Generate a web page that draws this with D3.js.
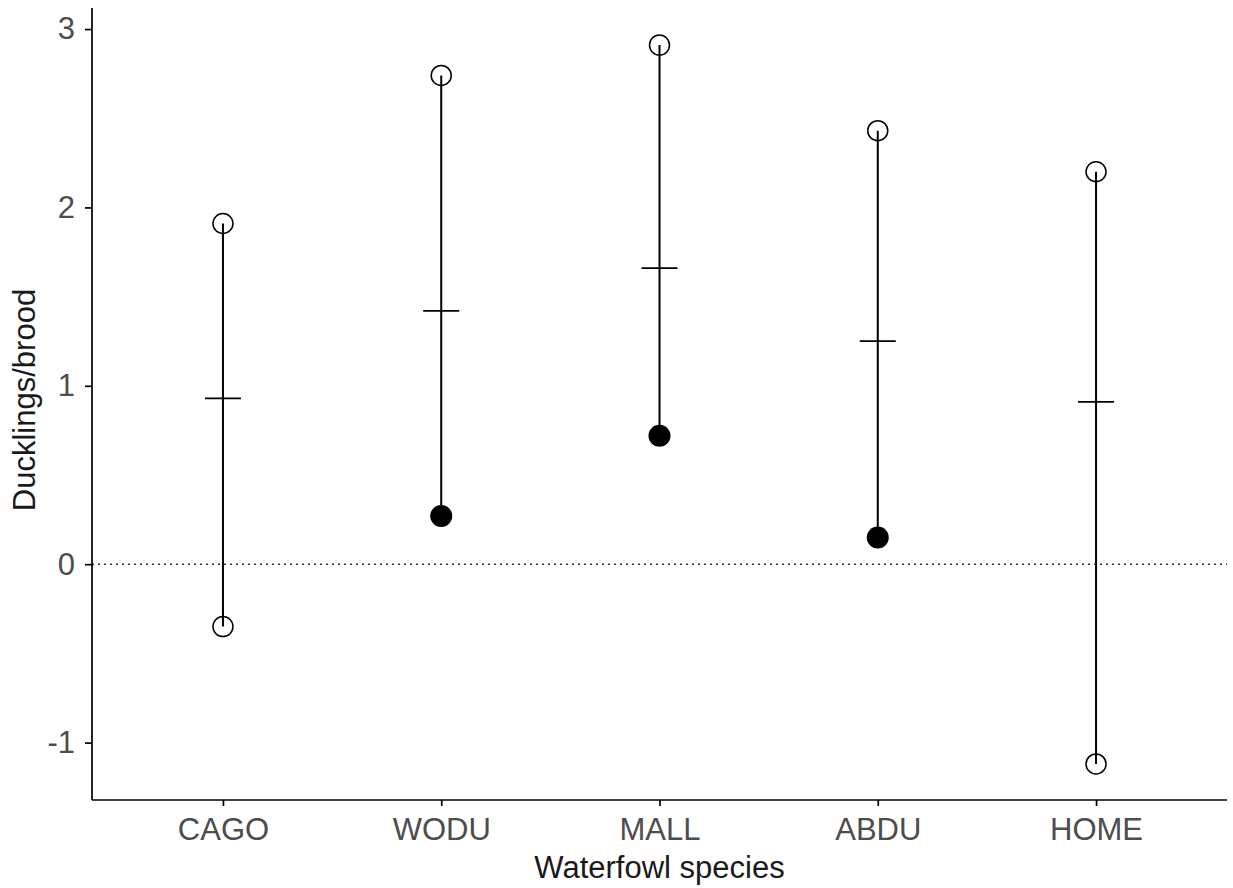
<!DOCTYPE html>
<html>
<head>
<meta charset="utf-8">
<script src="https://cdn.jsdelivr.net/npm/d3@7"></script>
<style>
  body { margin: 0; background: #fff; }
  .axis text { font-family: Arial, "Liberation Sans", sans-serif; font-size: 31px; fill: #4d4d4d; }
  .axis path, .axis line { stroke: #000; stroke-width: 1.7; }
</style>
</head>
<body>
<div id="chart"></div>
<script>
var species = ["CAGO", "WODU", "MALL", "ABDU", "HOME"];
var upper = [1.91, 2.74, 2.91, 2.43, 2.20];
var middle = [0.93, 1.42, 1.66, 1.25, 0.91];
var lower = [-0.35, 0.27, 0.72, 0.15, -1.12];
var lowerFilled = [false, true, true, true, false];
var yTicks = [-1, 0, 1, 2, 3];

var W = 1233, H = 888;
var svg = d3.select("#chart").append("svg")
    .attr("width", W)
    .attr("height", H);

var x = d3.scalePoint()
    .domain(species)
    .range([92, 1227])
    .padding(0.6);

var y = d3.scaleLinear()
    .domain([-1.322, 3.118])
    .range([800, 8]);

// zero reference line
svg.append("line")
    .attr("x1", 92).attr("x2", 1227)
    .attr("y1", y(0)).attr("y2", y(0))
    .attr("stroke", "#333")
    .attr("stroke-width", 1.4)
    .attr("stroke-dasharray", "2,4");

var data = species.map(function(s, i) {
  return { sp: s, hi: upper[i], mid: middle[i], lo: lower[i], filled: lowerFilled[i] };
});

var g = svg.append("g");

// open points (drawn under lines)
data.forEach(function(d) {
  g.append("circle")
    .attr("cx", x(d.sp)).attr("cy", y(d.hi))
    .attr("r", 10)
    .attr("fill", "#fff").attr("stroke", "#000").attr("stroke-width", 1.5);
  if (!d.filled) {
    g.append("circle")
      .attr("cx", x(d.sp)).attr("cy", y(d.lo))
      .attr("r", 10)
      .attr("fill", "#fff").attr("stroke", "#000").attr("stroke-width", 1.5);
  }
});

g.selectAll(".range")
  .data(data)
  .enter().append("line")
  .attr("class", "range")
  .attr("x1", function(d) { return x(d.sp); })
  .attr("x2", function(d) { return x(d.sp); })
  .attr("y1", function(d) { return y(d.hi); })
  .attr("y2", function(d) { return y(d.lo); })
  .attr("stroke", "#000")
  .attr("stroke-width", 2);

g.selectAll(".mid")
  .data(data)
  .enter().append("line")
  .attr("class", "mid")
  .attr("x1", function(d) { return x(d.sp) - 18; })
  .attr("x2", function(d) { return x(d.sp) + 18; })
  .attr("y1", function(d) { return y(d.mid); })
  .attr("y2", function(d) { return y(d.mid); })
  .attr("stroke", "#000")
  .attr("stroke-width", 1.7);

g.selectAll(".filled")
  .data(data.filter(function(d) { return d.filled; }))
  .enter().append("circle")
  .attr("class", "filled")
  .attr("cx", function(d) { return x(d.sp); })
  .attr("cy", function(d) { return y(d.lo); })
  .attr("r", 11)
  .attr("fill", "#000");

// axes
var yAxis = d3.axisLeft(y).tickValues(yTicks).tickSize(7).tickPadding(10)
    .tickFormat(function(d) { return String(d); });
svg.append("g")
  .attr("class", "axis y-axis")
  .attr("transform", "translate(92,0)")
  .call(yAxis)
  .call(function(s) { s.select(".domain").attr("d", "M0,8V800"); });

var xAxis = d3.axisBottom(x).tickSize(6).tickPadding(12);
svg.append("g")
  .attr("class", "axis x-axis")
  .attr("transform", "translate(0,800)")
  .call(xAxis)
  .call(function(s) { s.select(".domain").attr("d", "M92,0H1227"); });

svg.append("text")
  .text("Waterfowl species")
  .attr("x", (92 + 1227) / 2)
  .attr("y", 878)
  .attr("text-anchor", "middle")
  .attr("font-family", "Arial, 'Liberation Sans', sans-serif")
  .attr("font-size", "31px")
  .attr("fill", "#1a1a1a");

svg.append("text")
  .text("Ducklings/brood")
  .attr("transform", "translate(35,400) rotate(-90)")
  .attr("text-anchor", "middle")
  .attr("font-family", "Arial, 'Liberation Sans', sans-serif")
  .attr("font-size", "31px")
  .attr("fill", "#1a1a1a");
</script>
</body>
</html>
